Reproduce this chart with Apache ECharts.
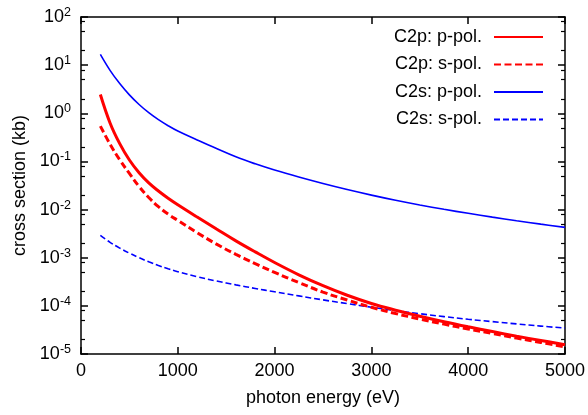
<!DOCTYPE html>
<html>
<head>
<meta charset="utf-8">
<script src="https://cdn.jsdelivr.net/npm/echarts@6/dist/echarts.min.js"></script>
<style>
html,body{margin:0;padding:0;background:#fff;}
#chart{width:588px;height:415px;}
</style>
</head>
<body>
<div id="chart"></div>
<script>
// photon energy (eV)
const energy = [200,300,400,500,600,700,800,900,1000,1200,1400,1600,1800,2000,2250,2500,2750,3000,3250,3500,3750,4000,4250,4500,4750,5000];
// cross sections (kb)
const c2pP = [2.45,0.63,0.234,0.107,0.0582,0.0359,0.0243,0.0172,0.0126,0.0070,0.00394,0.00224,0.00132,0.000794,0.000442,0.000263,0.000166,0.000112,0.0000813,0.000061,0.0000468,0.0000367,0.0000292,0.0000234,0.0000191,0.0000156];
const c2pS = [0.541,0.229,0.108,0.0562,0.0302,0.0178,0.01148,0.00804,0.00596,0.00331,0.00191,0.001175,0.00075,0.000495,0.000305,0.000193,0.000132,0.0000933,0.0000692,0.0000531,0.0000417,0.0000331,0.0000266,0.0000214,0.0000174,0.0000141];
const c2sP = [16.7,7.8,4.14,2.41,1.52,1.028,0.736,0.552,0.4285,0.28,0.185,0.1245,0.0891,0.0661,0.0473,0.0347,0.026,0.01995,0.0156,0.01245,0.01012,0.00836,0.00697,0.00586,0.00498,0.00427];
const c2sS = [0.0029,0.00209,0.001585,0.001245,0.001,0.000822,0.000689,0.000589,0.000513,0.000404,0.000328,0.000273,0.00023,0.000196,0.000161,0.000133,0.0001114,0.0000938,0.0000798,0.0000687,0.0000598,0.0000527,0.000047,0.0000422,0.000038,0.0000345];
const seriesNames = ['C2p: p-pol.','C2p: s-pol.','C2s: p-pol.','C2s: s-pol.'];
const yDecades = [-5,-4,-3,-2,-1,0,1,2];
const minorMant = [2,5,8];

const FONT = '"Liberation Sans", Arial, Helvetica, sans-serif';
const FS = 18;
const minorLog = [];
yDecades.slice(0,-1).forEach(d => minorMant.forEach(m => minorLog.push(d + Math.log10(m))));

const pairs = a => energy.map((e,i) => [e, a[i]]);
const axisLine = () => ({show:true, onZero:false, lineStyle:{color:'#000', width:1.5}});
const majorTick = () => ({show:true, inside:true, length:7, lineStyle:{color:'#000', width:1.5}});
const minorTickAxis = pos => ({type:'value', min:-5, max:2, position:pos,
  axisLine:{show:false, onZero:false}, splitLine:{show:false}, axisLabel:{show:false},
  axisTick:{show:true, inside:true, length:4, customValues:minorLog, lineStyle:{color:'#000', width:1.2}}});

const chart = echarts.init(document.getElementById('chart'), null, {renderer:'canvas'});
const styles = [
  {color:'#ff0000', width:3, type:'solid'},
  {color:'#ff0000', width:3, type:[7,3.5]},
  {color:'#0000ff', width:1.6, type:'solid'},
  {color:'#0000ff', width:1.6, type:[6,3]}
];
const datas = [c2pP, c2pS, c2sP, c2sS];

chart.setOption({
  animation:false,
  backgroundColor:'#fff',
  textStyle:{fontFamily:FONT},
  grid:{left:81, right:22, top:17, bottom:61},
  xAxis:[
    {type:'value', min:0, max:5000, interval:1000, position:'bottom',
     axisLine:axisLine(), splitLine:{show:false}, axisTick:majorTick(),
     axisLabel:{fontSize:FS, color:'#000', fontFamily:FONT, margin:8, formatter: v => String(v)},
     name:'photon energy (eV)', nameLocation:'middle', nameGap:35,
     nameTextStyle:{fontSize:FS, color:'#000', fontFamily:FONT}},
    {type:'value', min:0, max:5000, interval:1000, position:'top',
     axisLine:axisLine(), splitLine:{show:false}, axisTick:majorTick(),
     axisLabel:{show:false}}
  ],
  yAxis:[
    {type:'log', logBase:10, min:1e-5, max:100, splitNumber:7, position:'left',
     axisLine:axisLine(), splitLine:{show:false}, minorTick:{show:false}, axisTick:majorTick(),
     axisLabel:{color:'#000', margin:10, fontFamily:FONT,
       formatter: v => '{b|10}{s|' + Math.round(Math.log10(v)) + '}',
       rich:{b:{fontSize:FS, color:'#000', fontFamily:FONT},
             s:{fontSize:12.5, color:'#000', fontFamily:FONT, padding:[0,0,9,0]}}},
     name:'cross section (kb)', nameLocation:'middle', nameGap:52, nameRotate:90,
     nameTextStyle:{fontSize:FS, color:'#000', fontFamily:FONT}},
    {type:'log', logBase:10, min:1e-5, max:100, splitNumber:7, position:'right',
     axisLine:axisLine(), splitLine:{show:false}, axisTick:majorTick(),
     axisLabel:{show:false}},
    minorTickAxis('left'),
    minorTickAxis('right')
  ],
  legend: seriesNames.map((n,i) => ({
    data:[n], right:44, top:28 + i*27.5, orient:'horizontal', align:'right', padding:0,
    itemWidth:49, itemHeight:14, selectedMode:false,
    itemStyle:{opacity:0, borderWidth:0},
    textStyle:{fontSize:FS, color:'#000', fontFamily:FONT, padding:[0,7,0,0]}
  })),
  series: seriesNames.map((n,i) => ({
    name:n, type:'line', xAxisIndex:0, yAxisIndex:0, smooth:0.4,
    symbol:'none', showSymbol:false,
    lineStyle:styles[i], itemStyle:{color:styles[i].color},
    data:pairs(datas[i]), z: 10 - i
  }))
});
</script>
</body>
</html>
